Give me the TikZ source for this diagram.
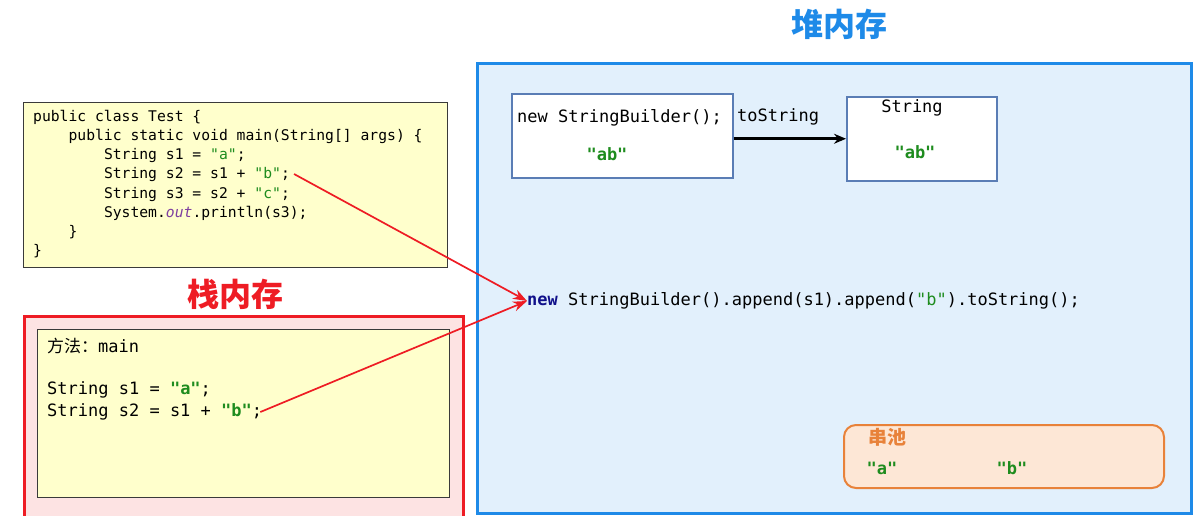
\documentclass[tikz,border=0pt]{standalone}
\usepackage{fontspec}
\usepackage{xcolor}
\setmonofont{DejaVu Sans Mono}
\newfontfamily\cjk{Noto Sans CJK SC}
\usetikzlibrary{positioning, arrows.meta}
\definecolor{codeyellow}{HTML}{FFFFCC}
\definecolor{codeborder}{HTML}{3A3A3A}
\definecolor{stackred}{HTML}{EE1C24}
\definecolor{stackfill}{HTML}{FDE3E3}
\definecolor{heapblue}{HTML}{1E8AE8}
\definecolor{heapfill}{HTML}{E2F0FC}
\definecolor{objborder}{HTML}{5A7DB5}
\definecolor{strgreen}{HTML}{1E8C1E}
\definecolor{kwnavy}{HTML}{10108A}
\definecolor{outpurple}{HTML}{7E3FA0}
\definecolor{poolorange}{HTML}{E8823A}
\definecolor{poolfill}{HTML}{FDE7D6}
\newcommand{\jstr}[1]{\textcolor{strgreen}{"#1"}}
\newcommand{\jstrb}[1]{\textcolor{strgreen}{\bfseries"#1"}}

\begin{document}
\begin{tikzpicture}[x=1pt, y=-1pt,
  box/.style={anchor=north west, inner sep=0pt},
  small/.style={anchor=west, inner sep=0pt, font=\ttfamily\fontsize{14.7}{18}\selectfont},
  big/.style={inner sep=0pt, font=\ttfamily\fontsize{17}{21}\selectfont},
  title/.style={inner sep=0pt, font=\cjk\bfseries\fontsize{32}{36}\selectfont},
  redarrow/.style={draw=stackred, line width=1.7pt, -{Stealth[length=14pt, width=10pt]}}]
\useasboundingbox (0,0) rectangle (1196,515);

\node[box, draw=codeborder, fill=codeyellow, line width=1.2pt,
      minimum width=424pt, minimum height=165pt] (code) at (23,102) {};
\node[small] (c1) at (33,117) {public class Test \{};
\node[small] (c2) at (68.4,136) {public static void main(String[] args) \{};
\node[small] (c3) at (103.8,155) {String s1 = \jstr{a};};
\node[small] (c4) at (103.8,174) {String s2 = s1 + \jstr{b};};
\node[small] (c5) at (103.8,194) {String s3 = s2 + \jstr{c};};
\node[small] (c6) at (103.8,213) {System.\textcolor{outpurple}{\itshape out}.println(s3);};
\node[small] (c7) at (68.4,232) {\}};
\node[small] (c8) at (33,251) {\}};

\node[title, text=stackred] (stacktitle) at (235,294) {栈内存};
\node[box, draw=stackred, fill=stackfill, line width=3pt,
      minimum width=439pt, minimum height=210pt] (stack) at (23,315) {};
\node[box, draw=codeborder, fill=codeyellow, line width=1.2pt,
      minimum width=412pt, minimum height=168pt] (frame) at (37,329) {};
\node[big, anchor=west] (method) at (47,346) {{\cjk 方法：}main};
\node[big, anchor=west] (st1) at (47,390) {String s1 = \jstrb{a};};
\node[big, anchor=west] (st2) at (47,412) {String s2 = s1 + \jstrb{b};};

\node[title, text=heapblue] (heaptitle) at (839,24) {堆内存};
\node[box, draw=heapblue, fill=heapfill, line width=3pt,
      minimum width=714pt, minimum height=450pt] (heap) at (476,62) {};

\node[box, draw=objborder, fill=white, line width=1.5pt,
      minimum width=221pt, minimum height=84pt] (sb) at (511,93) {};
\node[big, anchor=west] (sbname) at (517,118) {new StringBuilder();};
\node[big] (sbval) at (607,154) {\jstrb{ab}};
\node[box, draw=objborder, fill=white, line width=1.5pt,
      minimum width=150pt, minimum height=84pt] (str) at (846,96) {};
\node[big] (strname) at (912,108) {String};
\node[big] (strval) at (915,152) {\jstrb{ab}};
\draw[line width=3pt, -{Stealth[length=12pt, width=10pt]}]
  ([yshift=-3pt]sb.east) -- ([yshift=-3pt]sb.east -| str.west);
\node[big, anchor=west] (tostr) at (737,117) {toString};

\node[big, anchor=west] (expr) at (527,301)
  {\textcolor{kwnavy}{\bfseries new} StringBuilder().append(s1).append(\jstr{b}).toString();};

\node[box, draw=poolorange, fill=poolfill, line width=2pt, rounded corners=12pt,
      minimum width=320pt, minimum height=63pt] (pool) at (843,424) {};
\node[inner sep=0pt, anchor=west, text=poolorange, font=\cjk\bfseries\fontsize{19}{22}\selectfont]
  (pooltitle) at (868,437) {串池};
\node[big] (poola) at (882,468) {\jstrb{a}};
\node[big] (poolb) at (1012,468) {\jstrb{b}};

\draw[redarrow] ([xshift=4pt]c4.east) -- (expr.west);
\draw[redarrow] ([xshift=-2pt]st2.east) -- (expr.west);
\end{tikzpicture}
\end{document}
